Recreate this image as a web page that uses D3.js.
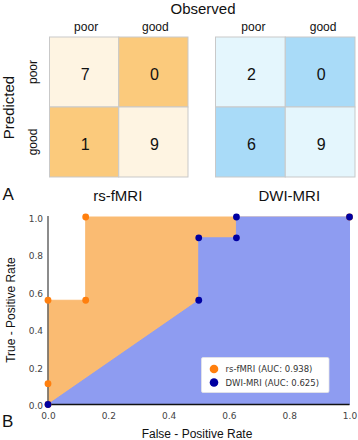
<!DOCTYPE html>
<html><head><meta charset="utf-8">
<script src="https://cdn.jsdelivr.net/npm/d3@7/dist/d3.min.js"></script>
<style>
html,body{margin:0;padding:0;background:#fff;}
svg{display:block;}
</style></head>
<body>
<svg id="c" width="358" height="440"></svg>
<script>
// ---- data ----
const observedCats = ["poor", "good"];
const predictedCats = ["poor", "good"];
const fmriCounts = [[7, 0], [1, 9]];
const dwiCounts = [[2, 0], [6, 9]];
const modelNames = ["rs-fMRI", "DWI-MRI"];
const fmriFPR = [0, 0, 0, 0.125, 0.125, 1];
const fmriTPR = [0, 0.111, 0.556, 0.556, 1, 1];
const dwiFPR = [0, 0.5, 0.5, 0.625, 0.625, 1];
const dwiTPR = [0, 0.556, 0.889, 0.889, 1, 1];
const rocTicks = [0, 0.2, 0.4, 0.6, 0.8, 1.0];
const legendLabels = ["rs-fMRI (AUC: 0.938)", "DWI-MRI (AUC: 0.625)"];

const svg = d3.select("#c");
const sans = "'Liberation Sans', Arial, sans-serif";
const mpl = "'DejaVu Sans', sans-serif";

// ---- panel A: confusion matrices ----
svg.append("text").attr("x", 203).attr("y", 13.5).attr("text-anchor", "middle")
  .attr("font-family", sans).attr("font-size", 15).attr("fill", "#111").text("Observed");
svg.append("text").attr("transform", "translate(13.5,107.5) rotate(-90)").attr("text-anchor", "middle")
  .attr("font-family", sans).attr("font-size", 15).attr("fill", "#111").text("Predicted");

const matrices = [
  {counts: fmriCounts, x0: 49.5, x1: 188, light: "#fef4e2", dark: "#fbca7c"},
  {counts: dwiCounts, x0: 215.5, x1: 355, light: "#e4f6fd", dark: "#a9dbf8"}
];
const yRow = d3.scaleBand().domain(predictedCats).range([37, 177]);

matrices.forEach((m, k) => {
  const xCol = d3.scaleBand().domain(observedCats).range([m.x0, m.x1]);
  const g = svg.append("g");
  predictedCats.forEach((p, i) => {
    observedCats.forEach((o, j) => {
      g.append("rect").attr("x", xCol(o)).attr("y", yRow(p))
        .attr("width", xCol.bandwidth()).attr("height", yRow.bandwidth())
        .attr("fill", i === j ? m.light : m.dark)
        .attr("stroke", "#c9c9c9").attr("stroke-width", 1);
      g.append("text").attr("x", xCol(o) + xCol.bandwidth() / 2 + 1)
        .attr("y", yRow(p) + yRow.bandwidth() / 2 + 8)
        .attr("text-anchor", "middle").attr("font-family", sans).attr("font-size", 16)
        .attr("fill", "#111").text(m.counts[i][j]);
    });
  });
  observedCats.forEach(o => {
    svg.append("text").attr("x", xCol(o) + xCol.bandwidth() / 2 + (k === 0 ? 2 : 3)).attr("y", 31)
      .attr("text-anchor", "middle").attr("font-family", sans).attr("font-size", 12)
      .attr("fill", "#111").text(o);
  });
  svg.append("text").attr("x", (m.x0 + m.x1) / 2 - (k === 0 ? 1 : -4)).attr("y", 200.5)
    .attr("text-anchor", "middle").attr("font-family", sans).attr("font-size", 15)
    .attr("fill", "#111").text(modelNames[k]);
});
predictedCats.forEach(p => {
  svg.append("text").attr("transform", `translate(37,${yRow(p) + yRow.bandwidth() / 2}) rotate(-90)`)
    .attr("text-anchor", "middle").attr("font-family", sans).attr("font-size", 12)
    .attr("fill", "#111").text(p);
});
svg.append("text").attr("x", 2.5).attr("y", 200).attr("font-family", sans).attr("font-size", 17)
  .attr("fill", "#111").text("A");

// ---- panel B: ROC ----
const x = d3.scaleLinear().domain([0, 1]).range([48, 349.5]);
const y = d3.scaleLinear().domain([0, 1]).range([404.5, 217]);

const area = d3.area().x(d => x(d[0])).y0(y(0)).y1(d => y(d[1]));
const fmriPts = fmriFPR.map((v, i) => [v, fmriTPR[i]]);
const dwiPts = dwiFPR.map((v, i) => [v, dwiTPR[i]]);
const orangeFill = "#fabb72", blueFill = "#8e9cf1";
const orangeDot = "#ff7f0e", blueDot = "#0000a2";

svg.append("path").attr("d", area(fmriPts)).attr("fill", orangeFill).attr("stroke", orangeFill).attr("stroke-width", 1);
svg.append("path").attr("d", area(dwiPts)).attr("fill", blueFill).attr("stroke", blueFill).attr("stroke-width", 1);

// spines
svg.append("line").attr("x1", x(0)).attr("x2", x(0)).attr("y1", 216).attr("y2", y(0))
  .attr("stroke", "#666").attr("stroke-width", 1.5);
svg.append("line").attr("x1", x(0)).attr("x2", x(1)).attr("y1", y(0)).attr("y2", y(0))
  .attr("stroke", "#111").attr("stroke-width", 1.5);

svg.append("g").selectAll("circle").data(fmriPts).join("circle")
  .attr("cx", d => x(d[0])).attr("cy", d => y(d[1])).attr("r", 3.4).attr("fill", orangeDot);
svg.append("g").selectAll("circle").data(dwiPts).join("circle")
  .attr("cx", d => x(d[0])).attr("cy", d => y(d[1])).attr("r", 3.4).attr("fill", blueDot);

// axes (labels only)
const xAxis = d3.axisBottom(x).tickValues(rocTicks).tickFormat(d3.format(".1f")).tickSize(0).tickPadding(8);
const gx = svg.append("g").attr("transform", `translate(0,${y(0)})`).call(xAxis);
gx.select(".domain").remove();
gx.selectAll("text").attr("font-family", mpl).attr("font-size", 9).attr("fill", "#444");
const yAxis = d3.axisLeft(y).tickValues(rocTicks).tickFormat(d3.format(".1f")).tickSize(0).tickPadding(5);
const gy = svg.append("g").attr("transform", `translate(${x(0)},1.5)`).call(yAxis);
gy.select(".domain").remove();
gy.selectAll("text").attr("font-family", mpl).attr("font-size", 9).attr("fill", "#444");

svg.append("text").attr("transform", "translate(15,310) rotate(-90)").attr("text-anchor", "middle")
  .attr("font-family", sans).attr("font-size", 12).attr("fill", "#111").text("True - Positive Rate");
svg.append("text").attr("x", 197).attr("y", 437.5).attr("text-anchor", "middle")
  .attr("font-family", sans).attr("font-size", 12).attr("fill", "#111").text("False - Positive Rate");
svg.append("text").attr("x", 2).attr("y", 427).attr("font-family", sans).attr("font-size", 17)
  .attr("fill", "#111").text("B");

// legend
const lg = svg.append("g");
lg.append("rect").attr("x", 201.5).attr("y", 357.5).attr("width", 127.5).attr("height", 35)
  .attr("fill", "#fff").attr("stroke", "#e4e4e4").attr("stroke-width", 0.8).attr("rx", 1.5);
[orangeDot, blueDot].forEach((c, i) => {
  lg.append("circle").attr("cx", 214).attr("cy", 369 + i * 13.5).attr("r", 4.3).attr("fill", c);
  lg.append("text").attr("x", 225.5).attr("y", 369 + i * 13.5 + 3.2)
    .attr("font-family", mpl).attr("font-size", 8.5).attr("fill", "#333").text(legendLabels[i]);
});
</script>
</body></html>
